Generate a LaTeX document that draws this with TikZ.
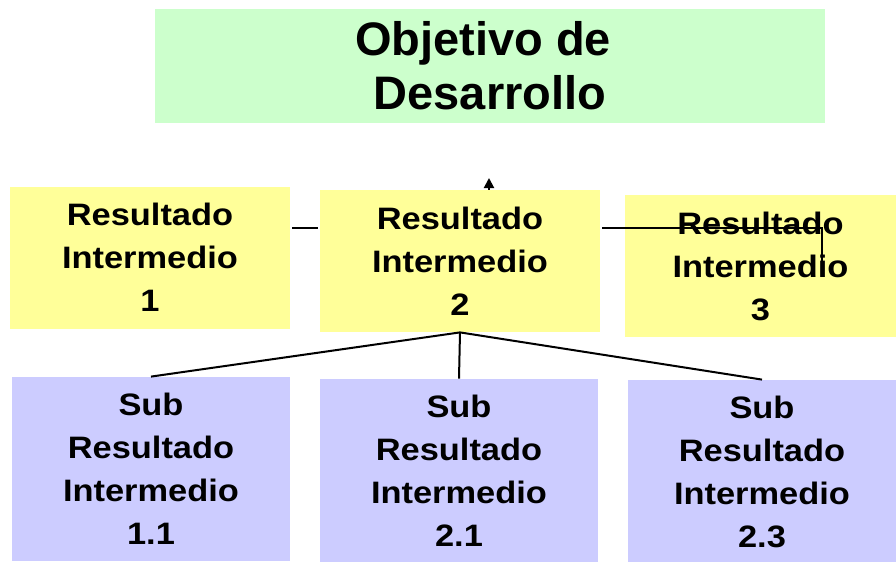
\documentclass[tikz,border=0pt]{standalone}
\usepackage{fontspec}
\setmainfont{Liberation Sans}
\newfontfamily\widesans{Liberation Sans}[FakeStretch=1.11]
\usetikzlibrary{arrows.meta}
\definecolor{objgreen}{HTML}{CCFFCC}
\definecolor{resyellow}{HTML}{FFFF99}
\definecolor{sublilac}{HTML}{CCCCFF}
\begin{document}
\begin{tikzpicture}[x=0.5pt,y=-0.5pt]
    \tikzstyle{every node}=[font=\widesans\bfseries\fontsize{15.5}{21.5}\selectfont, align=center, inner sep=0pt]
    \tikzstyle{resbox}=[fill=resyellow, minimum height=71pt]
    \tikzstyle{subbox}=[fill=sublilac, minimum height=92pt]
    \useasboundingbox (0,0) rectangle (896,562);
    % draw boxes
    \node[fill=objgreen, minimum width=335pt, minimum height=57pt,
          font=\bfseries\fontsize{23.5}{27}\selectfont] (obj) at (490,66) {Objetivo de\rule{7pt}{0pt}\\Desarrollo};
    \node[resbox, minimum width=140pt] (ri1) at (150,257.5) {Resultado\\Intermedio\\1};
    \node[resbox, minimum width=140pt] (ri2) at (460,261) {Resultado\\Intermedio\\2};
    \node[resbox, minimum width=135.5pt] (ri3) at (760.5,266) {Resultado\\Intermedio\\3};
    \node[subbox, minimum width=139pt] (s11) at (151,469) {Sub\\Resultado\\Intermedio\\1.1};
    \node[subbox, minimum width=139pt] (s21) at (459,471) {Sub\\Resultado\\Intermedio\\2.1};
    \node[subbox, minimum width=134pt] (s23) at (762,472) {Sub\\Resultado\\Intermedio\\2.3};
    % draw lines
    \coordinate (tip) at (489,178);
    \coordinate (bend) at (822,228);
    \coordinate (end) at (822,262);
    \draw[black, line width=1pt, -{Triangle[width=5pt,length=5pt]}] (tip |- ri2.north) -- (tip);
    \draw[black, line width=1pt] ([xshift=1pt]ri1.east |- bend) -- ([xshift=-1pt]ri2.west |- bend);
    \draw[black, line width=1pt] ([xshift=1pt]ri2.east |- bend) -- (bend) -- (end);
    \draw[black, line width=1pt] (s11.north) -- (ri2.south) -- (s23.north);
    \draw[black, line width=1pt] (ri2.south) -- (s21.north);
\end{tikzpicture}
\end{document}
